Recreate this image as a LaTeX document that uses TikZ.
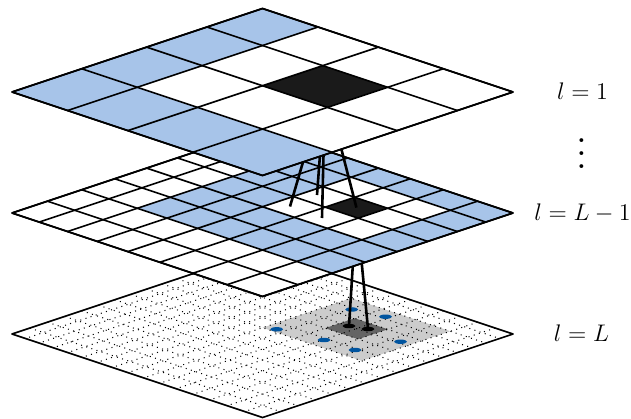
\documentclass[tikz,border=0pt]{standalone}
\usepackage{amsmath}
\usepackage{tikz}
\usetikzlibrary{positioning}

\definecolor{farblue}{RGB}{167,196,233}
\definecolor{boxblack}{RGB}{26,26,26}
\definecolor{neargray}{RGB}{204,204,204}
\definecolor{selfgray}{RGB}{100,100,100}
\definecolor{pointblue}{RGB}{0,84,159}

\tikzset{
  declare function={warp(\t)=\t-0.15*\t*(1-\t);},
  plane/.style={shift={(262.5,#1)}, x={(125.25pt,-41.75pt)}, y={(-125.25pt,-41.75pt)}},
  gridline/.style={black, line width=0.8pt, line join=round},
  fineline/.style={black, line width=0.5pt, dash pattern=on 0.5pt off 2.2pt},
  link/.style={black, line width=1.3pt},
  level/.style={font=\large, anchor=base}
}

% fill the patch i0..i1, j0..j1 of a level (fractions of the side)
\newcommand{\fillpatch}[5]{%
  \fill[#5] ({warp(#3)},{warp(#1)}) -- ({warp(#4)},{warp(#1)})
    -- ({warp(#4)},{warp(#2)}) -- ({warp(#3)},{warp(#2)}) -- cycle;}

\begin{document}
\begin{tikzpicture}[x=0.5pt, y=-0.5pt]
    \useasboundingbox (0,0) rectangle (631,418);

    % Centres of the black boxes
    \begin{scope}[plane=8.5]
        \coordinate (topc) at ({warp(5/8)},{warp(3/8)});
    \end{scope}
    \begin{scope}[plane=129.5]
        \coordinate (midc) at ({warp(11/16)},{warp(5/16)});
    \end{scope}

    % Points in the children and in the finest box
    \coordinate (ca) at (290,206.5);
    \coordinate (cb) at (317,195);
    \coordinate (cc) at (322,218);
    \coordinate (pa) at (349,326);
    \coordinate (pb) at (368,329);

    % Draw the level l = L
    \begin{scope}[plane=250.5]
        \fill[white] (0,0) -- (1,0) -- (1,1) -- (0,1) -- cycle;
        \fillpatch{1/8}{4/8}{4/8}{7/8}{neargray}
        \fillpatch{2/8}{3/8}{5/8}{6/8}{selfgray}
        \foreach \k in {1,...,15} {
            \draw[fineline] ({warp(\k/16)},0) -- ({warp(\k/16)},1);
            \draw[fineline] (0,{warp(\k/16)}) -- (1,{warp(\k/16)});
        }
        \draw[gridline] (0,0) -- (1,0) -- (1,1) -- (0,1) -- cycle;
    \end{scope}

    % Draw the points
    \fill[pointblue] (351.7,309.5) ellipse[x radius=6.5, y radius=2.2];
    \fill[pointblue] (385.5,316.7) ellipse[x radius=6.5, y radius=2.2];
    \fill[pointblue] (276.7,329.3) ellipse[x radius=6.5, y radius=2.2];
    \fill[pointblue] (324,340) ellipse[x radius=6.5, y radius=2.2];
    \fill[pointblue] (400.5,341.7) ellipse[x radius=6.5, y radius=2.2];
    \fill[pointblue] (355,350) ellipse[x radius=6.5, y radius=2.2];
    \draw[link] (midc) -- (pa);
    \draw[link] (midc) -- (pb);
    \fill (pa) ellipse[x radius=6.5, y radius=2.2];
    \fill (pb) ellipse[x radius=6.5, y radius=2.2];

    % Draw the level l = L-1
    \begin{scope}[plane=129.5]
        \fill[white] (0,0) -- (1,0) -- (1,1) -- (0,1) -- cycle;
        \foreach \i in {0,...,5} {
            \foreach \j in {2,...,7} {
                \pgfmathtruncatemacro{\isnbr}{(\i>0)*(\i<4)*(\j>3)*(\j<7)}
                \ifnum\isnbr=0
                    \fillpatch{\i/8}{(\i+1)/8}{\j/8}{(\j+1)/8}{farblue}
                \fi
            }
        }
        \fillpatch{2/8}{3/8}{5/8}{6/8}{boxblack}
        \foreach \k in {0,...,8} {
            \draw[gridline] ({warp(\k/8)},0) -- ({warp(\k/8)},1);
            \draw[gridline] (0,{warp(\k/8)}) -- (1,{warp(\k/8)});
        }
        \draw[gridline] (0,0) -- (1,0) -- (1,1) -- (0,1) -- cycle;
    \end{scope}

    % Draw the links to the children
    \draw[link] (topc) -- (ca);
    \draw[link] (topc) -- (cb);
    \draw[link] (topc) -- (cc);
    \draw[link] (topc) -- (midc);

    % Draw the level l = 1
    \begin{scope}[plane=8.5]
        \fill[white] (0,0) -- (1,0) -- (1,1) -- (0,1) -- cycle;
        \foreach \i in {0,...,3} {
            \fillpatch{\i/4}{(\i+1)/4}{0}{1/4}{farblue}
        }
        \foreach \j in {1,...,3} {
            \fillpatch{3/4}{1}{\j/4}{(\j+1)/4}{farblue}
        }
        \fillpatch{1/4}{2/4}{2/4}{3/4}{boxblack}
        \foreach \k in {0,...,4} {
            \draw[gridline] ({warp(\k/4)},0) -- ({warp(\k/4)},1);
            \draw[gridline] (0,{warp(\k/4)}) -- (1,{warp(\k/4)});
        }
        \draw[gridline] (0,0) -- (1,0) -- (1,1) -- (0,1) -- cycle;
    \end{scope}

    % Labels of the levels
    \node[level] (lev1) at (582.5,99.5) {$l = 1$};
    \node[level, scale=1.65] (levdots) at (581.7,168.7) {$\vdots$};
    \node[level] (levL1) at (582.5,220) {$l = L - 1$};
    \node[level] (levL) at (581.5,341.5) {$l = L$};
\end{tikzpicture}
\end{document}
